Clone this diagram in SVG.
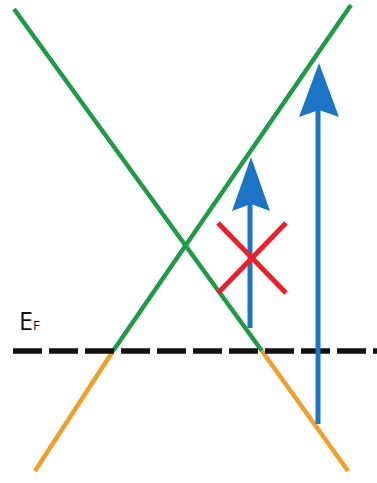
<svg xmlns="http://www.w3.org/2000/svg" width="377" height="483" viewBox="0 0 377 483">
<style>
.g{stroke:#1f9a48;stroke-width:4.5;fill:none;stroke-linecap:butt}
.o{stroke:#f0a02a;stroke-width:4.5;fill:none}
.b{stroke:#1b75c4;stroke-width:5;fill:none}
.bh{fill:#1b75c4}
.r{stroke:#e8202c;stroke-width:5;fill:none}
.t{font-family:"Open Sans","Liberation Sans",sans-serif;fill:#111}
</style>
<rect width="377" height="483" fill="#ffffff"/>
<g id="bands">
<line class="g" x1="14" y1="9" x2="262" y2="351"/>
<line class="o" x1="262" y1="351" x2="348" y2="471"/>
<line class="g" x1="351" y1="5" x2="113" y2="351"/>
<line class="o" x1="113" y1="351" x2="35" y2="471"/>
</g>
<g id="fermi">
<line x1="13" y1="351" x2="377" y2="351" stroke="#111" stroke-width="5.5" stroke-dasharray="29 7"/>
<text class="t" x="19" y="330" font-size="25">E<tspan font-size="13">F</tspan></text>
</g>
<g id="connectors">
<line class="b" x1="250" y1="328" x2="250" y2="200"/>
<polygon class="bh" points="251,157 270,211 251,204 232,211"/>
<line class="b" x1="318" y1="424" x2="318" y2="105"/>
<polygon class="bh" points="319,63 339,117 319,110 299,117"/>
</g>
<g id="cross">
<line class="r" x1="218" y1="223" x2="286" y2="293"/>
<line class="r" x1="218" y1="293" x2="286" y2="223"/>
</g>
</svg>
